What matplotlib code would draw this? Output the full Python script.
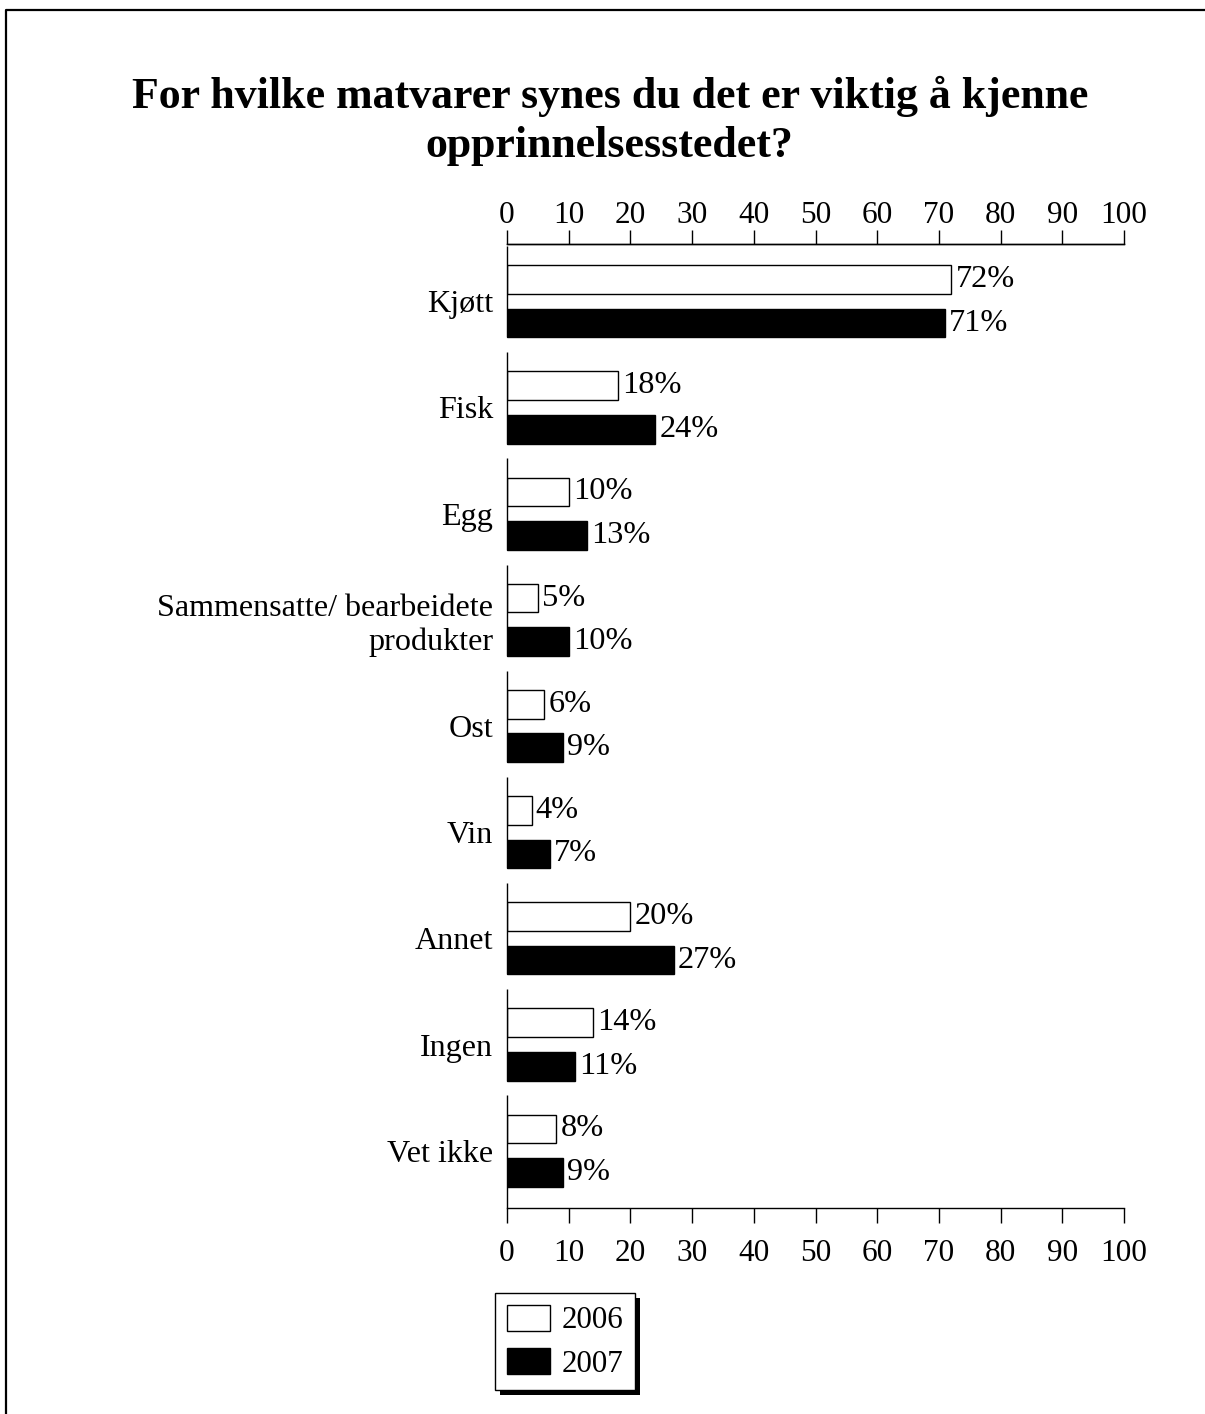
import matplotlib
matplotlib.use("Agg")
import matplotlib.pyplot as plt
from matplotlib.lines import Line2D
from matplotlib.patches import Rectangle, Patch
import numpy as np

plt.rcParams['font.family'] = ['Liberation Serif', 'DejaVu Serif']

categories = ["Kjøtt", "Fisk", "Egg", "Sammensatte/ bearbeidete\nprodukter", "Ost",
              "Vin", "Annet", "Ingen", "Vet ikke"]
values_2006 = [72, 18, 10, 5, 6, 4, 20, 14, 8]
values_2007 = [71, 24, 13, 10, 9, 7, 27, 11, 9]
series_labels = ["2006", "2007"]
xticks = list(range(0, 101, 10))

W, H = 1205, 1414
fig = plt.figure(figsize=(W / 100, H / 100), dpi=100)
ax = fig.add_axes([507 / W, 1 - 1208 / H, (1124 - 507) / W, (1208 - 244) / H])

y = np.arange(len(categories))
bh = 0.27
off = 0.205
ax.barh(y - off, values_2006, height=bh, color='white', edgecolor='black', linewidth=1.0, label=series_labels[0])
ax.barh(y + off, values_2007, height=bh, color='black', edgecolor='black', linewidth=1.0, label=series_labels[1])

for yy, v in zip(y - off, values_2006):
    ax.annotate(f"{v}%", (v, yy), xytext=(3, 0), textcoords='offset points',
                va='center', ha='left', fontsize=23.3)
for yy, v in zip(y + off, values_2007):
    ax.annotate(f"{v}%", (v, yy), xytext=(3, 0), textcoords='offset points',
                va='center', ha='left', fontsize=23.3)

ymin, ymax = -0.54, len(categories) - 1 + 0.54
ax.set_ylim(ymax, ymin)
ax.set_xlim(0, 100)

# segmented y-axis
for i in y:
    top = max(i - 0.52, ymin)
    bot = i + 0.34 if i < len(categories) - 1 else ymax
    ax.plot([0, 0], [top, bot], color='black', lw=1.0, clip_on=False, solid_capstyle='butt')

for s in ['left', 'right']:
    ax.spines[s].set_visible(False)
for s in ['top', 'bottom']:
    ax.spines[s].set_linewidth(1.0)

ax.set_xticks(xticks)
ax.tick_params(axis='x', direction='out', length=11, width=1.0, labelsize=22.5, pad=11)
ax.set_yticks(y)
ax.set_yticklabels(categories, fontsize=23.1, linespacing=1.2)
ax.tick_params(axis='y', length=0, pad=10)

sec = ax.secondary_xaxis('top')
sec.set_xticks(xticks)
sec.tick_params(axis='x', direction='out', length=10, width=1.0, labelsize=22.5, pad=0)
sec.spines['top'].set_linewidth(1.0)

fig.suptitle("For hvilke matvarer synes du det er viktig å kjenne\nopprinnelsesstedet?",
             fontsize=31.6, fontweight='bold', x=0.506, y=1 - 76 / H, va='top', linespacing=1.28)

handles = [Patch(facecolor='white', edgecolor='black', linewidth=1.0),
           Patch(facecolor='black', edgecolor='black', linewidth=1.0)]
leg = fig.legend(handles, series_labels, loc='upper left',
                 bbox_to_anchor=(495 / W, 1 - 1293 / H), fontsize=22.3, frameon=True,
                 fancybox=False, edgecolor='black', framealpha=1,
                 handlelength=1.4, handleheight=0.92, handletextpad=0.36,
                 borderpad=0.38, labelspacing=0.4, borderaxespad=0)
leg.get_frame().set_linewidth(1.0)
leg.set_zorder(5)

fig.canvas.draw()
bb = leg.get_window_extent()
shadow = Rectangle((bb.x0 + 5, bb.y0 - 5), bb.width, bb.height, transform=None,
                   facecolor='black', edgecolor='none', zorder=4)
fig.patches.append(shadow)

# figure border (left and top)
fig.lines.append(Line2D([6 / W, 6 / W, 1.0], [0.0, 1 - 10 / H, 1 - 10 / H],
                        transform=fig.transFigure, color='black', lw=1.6))

fig.savefig("out.png", dpi=100)
